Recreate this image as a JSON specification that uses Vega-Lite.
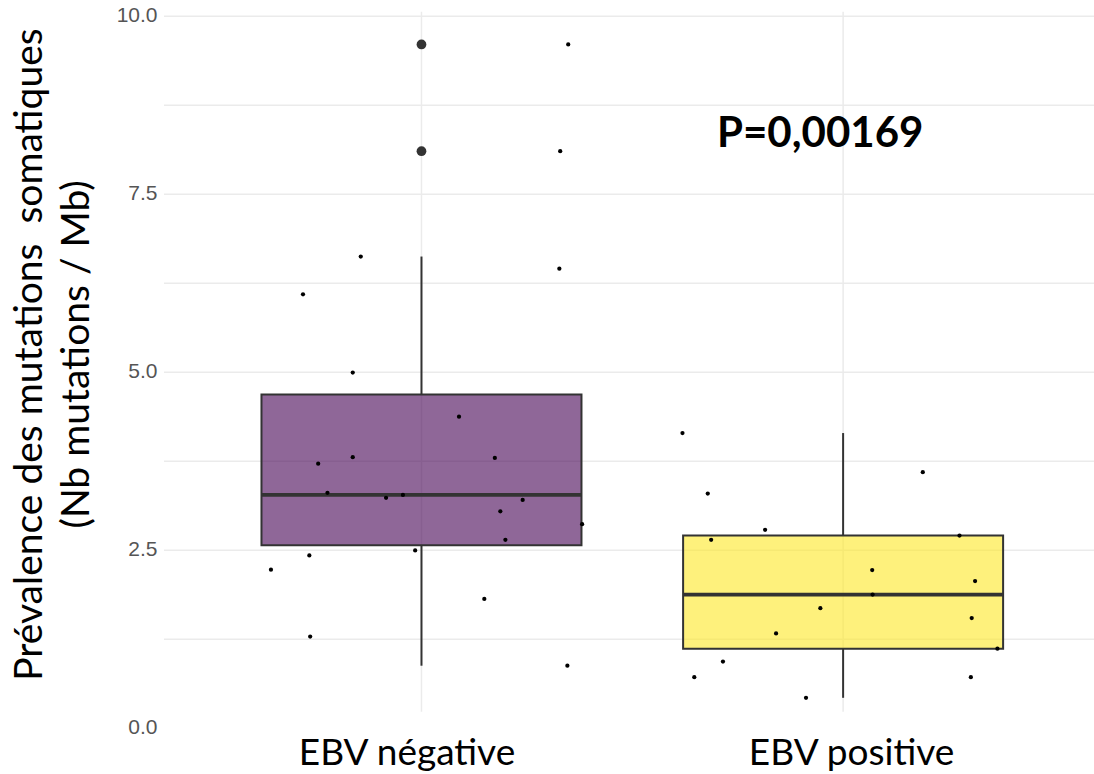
{
  "$schema": "https://vega.github.io/schema/vega-lite/v6.json",
  "autosize": "none",
  "padding": {"left": 163.5, "top": 11.7, "right": 0, "bottom": 46.3},
  "width": 930,
  "height": 716,
  "background": "white",
  "config": {"view": {"stroke": null}},
  "datasets": {
    "points": [
      {"group": "EBV négative", "g": 1, "xj": 1.348, "value": 9.6, "outlier": true},
      {"group": "EBV négative", "g": 1, "xj": 1.329, "value": 8.1, "outlier": true},
      {"group": "EBV négative", "g": 1, "xj": 0.856, "value": 6.62, "outlier": false},
      {"group": "EBV négative", "g": 1, "xj": 1.327, "value": 6.45, "outlier": false},
      {"group": "EBV négative", "g": 1, "xj": 0.719, "value": 6.09, "outlier": false},
      {"group": "EBV négative", "g": 1, "xj": 0.837, "value": 4.99, "outlier": false},
      {"group": "EBV négative", "g": 1, "xj": 1.089, "value": 4.37, "outlier": false},
      {"group": "EBV négative", "g": 1, "xj": 0.837, "value": 3.80, "outlier": false},
      {"group": "EBV négative", "g": 1, "xj": 1.174, "value": 3.79, "outlier": false},
      {"group": "EBV négative", "g": 1, "xj": 0.755, "value": 3.71, "outlier": false},
      {"group": "EBV négative", "g": 1, "xj": 0.777, "value": 3.30, "outlier": false},
      {"group": "EBV négative", "g": 1, "xj": 0.956, "value": 3.27, "outlier": false},
      {"group": "EBV négative", "g": 1, "xj": 0.916, "value": 3.23, "outlier": false},
      {"group": "EBV négative", "g": 1, "xj": 1.240, "value": 3.20, "outlier": false},
      {"group": "EBV négative", "g": 1, "xj": 1.187, "value": 3.04, "outlier": false},
      {"group": "EBV négative", "g": 1, "xj": 1.381, "value": 2.86, "outlier": false},
      {"group": "EBV négative", "g": 1, "xj": 1.199, "value": 2.64, "outlier": false},
      {"group": "EBV négative", "g": 1, "xj": 0.985, "value": 2.49, "outlier": false},
      {"group": "EBV négative", "g": 1, "xj": 0.734, "value": 2.42, "outlier": false},
      {"group": "EBV négative", "g": 1, "xj": 0.643, "value": 2.22, "outlier": false},
      {"group": "EBV négative", "g": 1, "xj": 1.149, "value": 1.81, "outlier": false},
      {"group": "EBV négative", "g": 1, "xj": 0.736, "value": 1.28, "outlier": false},
      {"group": "EBV négative", "g": 1, "xj": 1.346, "value": 0.871, "outlier": false},
      {"group": "EBV positive", "g": 2, "xj": 1.619, "value": 4.14, "outlier": false},
      {"group": "EBV positive", "g": 2, "xj": 2.189, "value": 3.59, "outlier": false},
      {"group": "EBV positive", "g": 2, "xj": 1.679, "value": 3.29, "outlier": false},
      {"group": "EBV positive", "g": 2, "xj": 1.815, "value": 2.78, "outlier": false},
      {"group": "EBV positive", "g": 2, "xj": 2.276, "value": 2.70, "outlier": false},
      {"group": "EBV positive", "g": 2, "xj": 1.687, "value": 2.64, "outlier": false},
      {"group": "EBV positive", "g": 2, "xj": 2.069, "value": 2.215, "outlier": false},
      {"group": "EBV positive", "g": 2, "xj": 2.313, "value": 2.06, "outlier": false},
      {"group": "EBV positive", "g": 2, "xj": 2.070, "value": 1.87, "outlier": false},
      {"group": "EBV positive", "g": 2, "xj": 1.946, "value": 1.68, "outlier": false},
      {"group": "EBV positive", "g": 2, "xj": 2.305, "value": 1.54, "outlier": false},
      {"group": "EBV positive", "g": 2, "xj": 1.841, "value": 1.325, "outlier": false},
      {"group": "EBV positive", "g": 2, "xj": 2.366, "value": 1.11, "outlier": false},
      {"group": "EBV positive", "g": 2, "xj": 1.715, "value": 0.93, "outlier": false},
      {"group": "EBV positive", "g": 2, "xj": 1.647, "value": 0.71, "outlier": false},
      {"group": "EBV positive", "g": 2, "xj": 2.303, "value": 0.71, "outlier": false},
      {"group": "EBV positive", "g": 2, "xj": 1.912, "value": 0.42, "outlier": false}
    ],
    "stats": [
      {"group": "EBV négative", "g": 1, "lower": 0.871, "q1": 2.565, "median": 3.27, "q3": 4.68, "upper": 6.62},
      {"group": "EBV positive", "g": 2, "lower": 0.42, "q1": 1.11, "median": 1.87, "q3": 2.70, "upper": 4.14}
    ]
  },
  "layer": [
    {
      "data": {"name": "stats"},
      "mark": {"type": "rule", "color": "#EBEBEB", "strokeWidth": 1.5},
      "encoding": {
        "x": {
          "field": "g", "type": "quantitative",
          "scale": {"domain": [0.4, 2.582], "nice": false, "zero": false},
          "axis": {
            "values": [1, 2],
            "labelExpr": "datum.value === 1 ? 'EBV négative' : 'EBV positive'",
            "title": null,
            "grid": false, "domain": false, "ticks": false, "tickSize": 0,
            "labelFont": "Lato", "labelFontSize": 37, "labelColor": "#000000", "labelLimit": 0,
            "labelBaseline": "alphabetic", "labelPadding": 36.3,
            "labelOffset": {"condition": {"test": "datum.value === 1", "value": -15}, "value": 8}
          }
        },
        "y": {
          "datum": 0.225, "type": "quantitative",
          "scale": {"domain": [0, 10.06], "nice": false, "zero": false},
          "axis": {
            "values": [0, 1.25, 2.5, 3.75, 5, 6.25, 7.5, 8.75, 10],
            "labelExpr": "datum.value % 2.5 === 0 ? format(datum.value, '.1f') : ''",
            "title": ["Prévalence des mutations\u00a0 somatiques", "(Nb mutations / Mb)"],
            "titleFont": "Lato", "titleFontSize": 39, "titleFontWeight": "normal", "titleColor": "#000000",
            "titleAngle": -90, "titleAlign": "center", "titleBaseline": "alphabetic",
            "titleLineHeight": 46.5, "titleX": -121.8, "titleY": 342.3, "titleLimit": 0,
            "grid": true, "gridColor": "#EBEBEB", "gridWidth": 1.5,
            "gridOpacity": {"condition": {"test": "datum.value === 0", "value": 0}, "value": 1},
            "domain": false, "ticks": false, "tickSize": 0,
            "labelFont": "Liberation Sans", "labelFontSize": 21, "labelColor": "#555555",
            "labelPadding": 6.5
          }
        },
        "y2": {"datum": 10.06}
      }
    },
    {
      "data": {"name": "stats"},
      "mark": {"type": "rule", "color": "#333333", "strokeWidth": 2},
      "encoding": {
        "x": {"field": "g", "type": "quantitative"},
        "y": {"field": "lower", "type": "quantitative"},
        "y2": {"field": "q1"}
      }
    },
    {
      "data": {"name": "stats"},
      "mark": {"type": "rule", "color": "#333333", "strokeWidth": 2},
      "encoding": {
        "x": {"field": "g", "type": "quantitative"},
        "y": {"field": "q3", "type": "quantitative"},
        "y2": {"field": "upper"}
      }
    },
    {
      "data": {"name": "stats"},
      "mark": {"type": "bar", "width": 320, "fillOpacity": 0.6, "stroke": "#333333", "strokeWidth": 2, "orient": "vertical"},
      "encoding": {
        "x": {"field": "g", "type": "quantitative"},
        "y": {"field": "q1", "type": "quantitative"},
        "y2": {"field": "q3"},
        "fill": {
          "field": "group", "type": "nominal",
          "scale": {"domain": ["EBV négative", "EBV positive"], "range": ["#440154", "#FDE725"]},
          "legend": null
        }
      }
    },
    {
      "data": {"name": "stats"},
      "mark": {"type": "tick", "orient": "horizontal", "size": 320, "thickness": 3.8, "color": "#333333", "opacity": 1},
      "encoding": {
        "x": {"field": "g", "type": "quantitative"},
        "y": {"field": "median", "type": "quantitative"}
      }
    },
    {
      "data": {"name": "points"},
      "transform": [{"filter": "datum.outlier"}],
      "mark": {"type": "circle", "size": 95, "color": "#333333", "opacity": 1},
      "encoding": {
        "x": {"field": "g", "type": "quantitative"},
        "y": {"field": "value", "type": "quantitative"}
      }
    },
    {
      "data": {"name": "points"},
      "mark": {"type": "circle", "size": 18, "color": "#000000", "opacity": 1},
      "encoding": {
        "x": {"field": "xj", "type": "quantitative"},
        "y": {"field": "value", "type": "quantitative"}
      }
    },
    {
      "data": {"values": [{}]},
      "mark": {"type": "text", "text": "P=0,00169", "font": "Lato", "fontSize": 42, "fontWeight": "bold", "color": "#000000", "align": "center", "baseline": "alphabetic"},
      "encoding": {
        "x": {"datum": 1.9456, "type": "quantitative"},
        "y": {"datum": 8.164, "type": "quantitative"}
      }
    }
  ]
}
